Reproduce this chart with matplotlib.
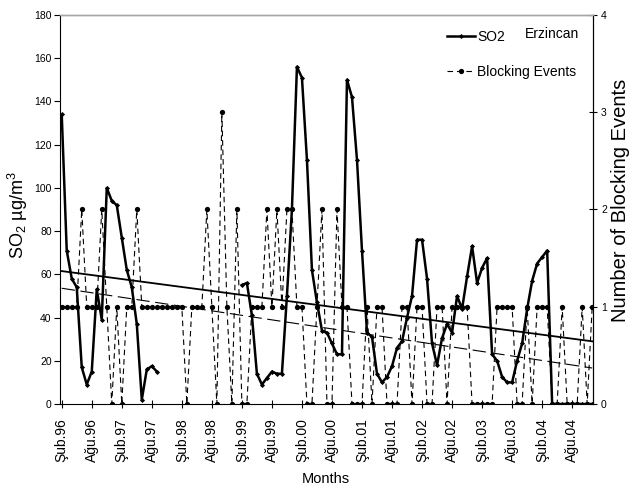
import numpy as np
import matplotlib
matplotlib.use("Agg")
import matplotlib.pyplot as plt
from matplotlib.lines import Line2D

plt.rcParams["font.family"] = ["Liberation Sans", "DejaVu Sans"]
plt.rcParams["mathtext.fontset"] = "custom"
plt.rcParams["mathtext.rm"] = "Liberation Sans"
plt.rcParams["mathtext.it"] = "Liberation Sans:italic"

# ── data: monthly, Şub.96 (Feb 1996) .. Ara.04 (Dec 2004)
nan = np.nan
so2 = [134, 71, 58, 54, 17, 9, 15, 53, 39, 100, 94, 92, 77, 62, 54, 37, 2, 16, 17.5, 15,
       nan, nan, nan, nan, nan, nan, nan, nan, nan, nan, nan, nan, nan, nan, nan, nan,
       55, 56, 41, 14, 9, 12, 15, 14, 14, 50, 90, 156, 151, 113, 62, 47, 34, 33, 28, 23,
       23, 150, 142, 113, 71, 33, 31, 14, 10, 12.5, 17.5, 26, 29, 40, 50, 76, 76, 58, 28, 18,
       30.5, 37, 33, 50, 44, 59, 73, 56, 63, 67.5, 23, 20, 12.5, 10, 10, 20, 28, 44, 57, 65,
       68, 71, 0, 0, 0, 0, 0, 0, 0, 0, 0]
blocking = [1, 1, 1, 1, 2, 1, 1, 1, 2, 1, 0, 1, 0, 1, 1, 2, 1, 1, 1, 1,
            1, 1, 1, 1, 1, 0, 1, 1, 1, 2, 1, 0, 3, 1, 0, 2, 0, 0, 1, 1,
            1, 2, 1, 2, 1, 2, 2, 1, 1, 0, 0, 1, 2, 0, 0, 2, 1, 1, 0, 0,
            0, 1, 0, 1, 1, 0, 0, 0, 1, 1, 0, 1, 1, 0, 0, 1, 1, 0, 1, 1,
            1, 1, 0, 0, 0, 0, 0, 1, 1, 1, 1, 0, 0, 1, 0, 1, 1, 1, 0, 0,
            1, 0, 0, 0, 1, 0, 1]
# linear trend lines, end values
so2_trend = [61.5, 29]
blocking_trend = [1.19, 0.37]

years = ["96", "97", "98", "99", "00", "01", "02", "03", "04"]
tick_labels = [m + "." + y for y in years for m in ("Şub", "Ağu")]

x = np.arange(len(so2))
tick_pos = np.arange(0, len(x), 6)

fig = plt.figure(figsize=(6.32, 4.91), dpi=100)
ax = fig.add_axes([0.0949, 0.1772, 0.8429, 0.7923])
ax2 = ax.twinx()
ax.set_zorder(ax2.get_zorder() + 1)
ax.patch.set_visible(False)

# blocking events (right axis)
ax2.plot(x, blocking, color="black", lw=0.8, linestyle=(0, (5, 3.5)),
         marker="o", markersize=3.8, markeredgewidth=0)
ax2.plot([x[0], x[-1]], blocking_trend, color="black", lw=0.8, linestyle=(0, (12, 5)))

# SO2 (left axis)
ax.plot(x, so2, color="black", lw=1.8, marker="D", markersize=2.6, markeredgewidth=0)
ax.plot([x[0], x[-1]], so2_trend, color="black", lw=1.3)

ax.set_xlim(-0.35, 106.1)
ax.set_ylim(0, 180)
ax2.set_ylim(0, 4)
ax.set_yticks(np.arange(0, 181, 20))
ax2.set_yticks(np.arange(0, 5, 1))
ax.set_xticks(tick_pos)
ax.set_xticklabels(tick_labels, rotation=90, fontsize=10)

ax.tick_params(axis="y", direction="out", length=4, width=0.8, labelsize=7.5, pad=2)
ax.tick_params(axis="x", direction="inout", length=6, width=0.8, pad=7)
ax2.tick_params(axis="y", direction="inout", length=6, width=0.8, labelsize=7.5, pad=3)

for a in (ax, ax2):
    a.spines["top"].set_color("#a6a6a6")
    a.spines["top"].set_linewidth(1.0)
ax2.spines["left"].set_visible(False)
ax2.spines["bottom"].set_visible(False)

ax.set_ylabel("SO$_2$ µg/m$^3$", fontsize=13, va="center", ha="center")
ax.yaxis.set_label_coords(-0.079, 0.486)
ax2.set_ylabel("Number of Blocking Events", fontsize=14.5, va="center", ha="center")
ax2.yaxis.set_label_coords(1.053, 0.524)
ax.set_xlabel("Months", fontsize=10.5, va="center")
ax.xaxis.set_label_coords(0.4993, -0.193)

handles = [
    Line2D([], [], color="black", lw=1.8, marker="D", markersize=2.6, markeredgewidth=0),
    Line2D([], [], color="black", lw=0.8, linestyle=(0, (5, 3.5)),
           marker="o", markersize=3.8, markeredgewidth=0),
]
ax.legend(handles, ["SO2", "Blocking Events"], loc="upper left",
          bbox_to_anchor=(0.7265, 0.961), frameon=False, fontsize=10,
          handlelength=2.0, handletextpad=0.15, labelspacing=1.5,
          borderpad=0, borderaxespad=0)
ax.text(0.873, 0.951, "Erzincan", transform=ax.transAxes, fontsize=10,
        ha="left", va="center")

fig.savefig("out.png", dpi=100)
